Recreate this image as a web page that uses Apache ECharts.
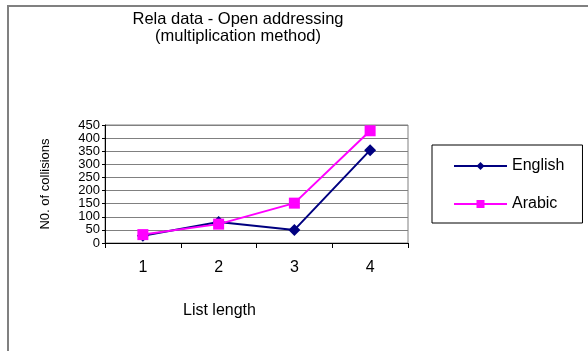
<!DOCTYPE html>
<html>
<head>
<meta charset="utf-8">
<script src="https://cdn.jsdelivr.net/npm/echarts@6/dist/echarts.min.js"></script>
<style>
  html, body { margin: 0; padding: 0; background: #fff; }
  #chart { width: 588px; height: 351px; }
</style>
</head>
<body>
<div id="chart"></div>
<script>
// List lengths on the x axis
const listLengths = ['1', '2', '3', '4'];
// Collision counts per list length
const englishCollisions = [28, 80, 50, 354];
const arabicCollisions = [32, 72, 152, 428];
// Y axis scale
const yMin = 0;
const yMax = 450;
const yStep = 50;

const FONT = '"Liberation Sans", Arial, sans-serif';

const chart = echarts.init(document.getElementById('chart'), null, { renderer: 'canvas' });

chart.setOption({
  backgroundColor: '#ffffff',
  animation: false,
  title: {
    text: 'Rela data - Open addressing\n(multiplication method)',
    left: 238,
    top: 11,
    textAlign: 'center',
    padding: 0,
    textStyle: {
      fontFamily: FONT,
      fontSize: 16.5,
      fontWeight: 'normal',
      color: '#000',
      lineHeight: 17
    }
  },
  graphic: [
    {
      // outer chart frame
      type: 'rect',
      shape: { x: 8, y: 6, width: 620, height: 380 },
      style: { fill: 'none', stroke: '#808080', lineWidth: 2 },
      silent: true
    },
    {
      type: 'text',
      left: 183,
      top: 303,
      style: {
        text: 'List length',
        font: '16px ' + FONT,
        fill: '#000'
      }
    }
  ],
  legend: {
    orient: 'vertical',
    left: 432,
    top: 145,
    padding: [13, 18, 11, 21],
    itemWidth: 53,
    itemHeight: 10,
    itemGap: 22,
    borderColor: '#000',
    borderWidth: 1,
    textStyle: { fontFamily: FONT, fontSize: 16, color: '#000' },
    data: ['English', 'Arabic']
  },
  grid: {
    left: 105,
    top: 125,
    width: 303,
    height: 118,
    show: true,
    borderColor: '#808080',
    borderWidth: 1,
    containLabel: false
  },
  xAxis: {
    type: 'category',
    data: listLengths,
    boundaryGap: true,
    axisLine: { lineStyle: { color: '#000', width: 1 } },
    axisTick: { show: true, length: 5, lineStyle: { color: '#000' } },
    axisLabel: { fontFamily: FONT, fontSize: 16, color: '#000', margin: 17 },
    splitLine: { show: false }
  },
  yAxis: {
    type: 'value',
    min: yMin,
    max: yMax,
    interval: yStep,
    name: 'N0. of collisions',
    nameLocation: 'middle',
    nameGap: 53,
    nameTextStyle: { fontFamily: FONT, fontSize: 13, color: '#000' },
    axisLine: { show: true, lineStyle: { color: '#000', width: 1 } },
    axisTick: { show: true, length: 3, lineStyle: { color: '#000' } },
    axisLabel: { fontFamily: FONT, fontSize: 13, color: '#000', margin: 5 },
    splitLine: { show: true, lineStyle: { color: '#808080', width: 1 } }
  },
  series: [
    {
      name: 'English',
      type: 'line',
      data: englishCollisions,
      symbol: 'diamond',
      symbolSize: 12,
      lineStyle: { color: '#000080', width: 2 },
      itemStyle: { color: '#000080' },
      z: 2
    },
    {
      name: 'Arabic',
      type: 'line',
      data: arabicCollisions,
      symbol: 'rect',
      symbolSize: 11,
      lineStyle: { color: '#ff00ff', width: 2 },
      itemStyle: { color: '#ff00ff' },
      z: 3
    }
  ]
});
</script>
</body>
</html>
